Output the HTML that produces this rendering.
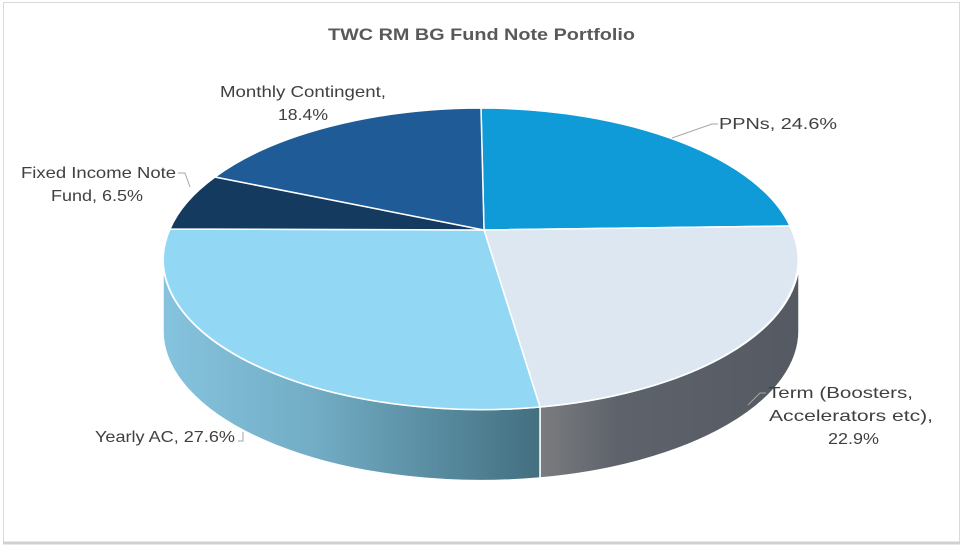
<!DOCTYPE html>
<html><head><style>
html,body{margin:0;padding:0;background:#fff;}
svg{display:block;}
text{font-family:"Liberation Sans",sans-serif;}
</style></head><body>
<svg width="964" height="550" viewBox="0 0 964 550" xmlns="http://www.w3.org/2000/svg">
<defs>
<linearGradient id="gy" x1="163" y1="0" x2="540" y2="0" gradientUnits="userSpaceOnUse">
<stop offset="0" stop-color="#86c3de"/><stop offset="0.4" stop-color="#72adc5"/><stop offset="1" stop-color="#436f80"/></linearGradient>
<linearGradient id="gt" x1="540" y1="0" x2="800" y2="0" gradientUnits="userSpaceOnUse">
<stop offset="0" stop-color="#7a7c7f"/><stop offset="0.3" stop-color="#5e636b"/><stop offset="1" stop-color="#555a62"/></linearGradient>
</defs>
<rect x="0" y="0" width="964" height="550" fill="#fff"/>
<rect x="3.5" y="2.5" width="956" height="540" fill="none" stroke="#d9d9d9" stroke-width="1"/>
<line x1="3" y1="543" x2="960" y2="543" stroke="#d0d0d0" stroke-width="3"/>
<text x="328" y="40" textLength="307" lengthAdjust="spacingAndGlyphs" font-size="17" font-weight="bold" fill="#595959">TWC RM BG Fund Note Portfolio</text>
<g stroke="#fff" stroke-width="1.5" stroke-linejoin="round">
<path d="M799,258 A318,150 0 0,1 540,407 L540,478 A318,150 0 0,0 799,328 Z" fill="url(#gt)"/>
<path d="M540,407 A318,150 0 0,1 163,258 L163,328 A318,150 0 0,0 540,478 Z" fill="url(#gy)"/>
<path d="M484,230 L481,108 A318,150 0 0,1 790,226 Z" fill="#0f9bd7"/>
<path d="M484,230 L790,226 A318,150 0 0,1 540,407 Z" fill="#dce7f2"/>
<path d="M484,230 L540,407 A318,150 0 0,1 170,229 Z" fill="#92d8f5"/>
<path d="M484,230 L170,229 A318,150 0 0,1 215,177 Z" fill="#143a60"/>
<path d="M484,230 L215,177 A318,150 0 0,1 481,108 Z" fill="#1f5b96"/>
</g>
<g fill="none" stroke="#a6a6a6" stroke-width="1">
<polyline points="672,138 712,124 718,124"/>
<polyline points="748,405 760,393 766,393"/>
<polyline points="238,441 243,441 243,432"/>
<polyline points="178,173 185,173 190,187"/>
</g>
<g font-size="16" fill="#404040">
<text x="719" y="129" textLength="118" lengthAdjust="spacingAndGlyphs">PPNs, 24.6%</text>
<text x="768" y="398" textLength="145" lengthAdjust="spacingAndGlyphs">Term (Boosters,</text>
<text x="769" y="421" textLength="164" lengthAdjust="spacingAndGlyphs">Accelerators etc),</text>
<text x="828" y="444" textLength="51" lengthAdjust="spacingAndGlyphs">22.9%</text>
<text x="95" y="442" textLength="140" lengthAdjust="spacingAndGlyphs">Yearly AC, 27.6%</text>
<text x="21" y="178" textLength="155" lengthAdjust="spacingAndGlyphs">Fixed Income Note</text>
<text x="51" y="201" textLength="92" lengthAdjust="spacingAndGlyphs">Fund, 6.5%</text>
<text x="220" y="97" textLength="166" lengthAdjust="spacingAndGlyphs">Monthly Contingent,</text>
<text x="278" y="120" textLength="50" lengthAdjust="spacingAndGlyphs">18.4%</text>
</g>
</svg>
</body></html>
